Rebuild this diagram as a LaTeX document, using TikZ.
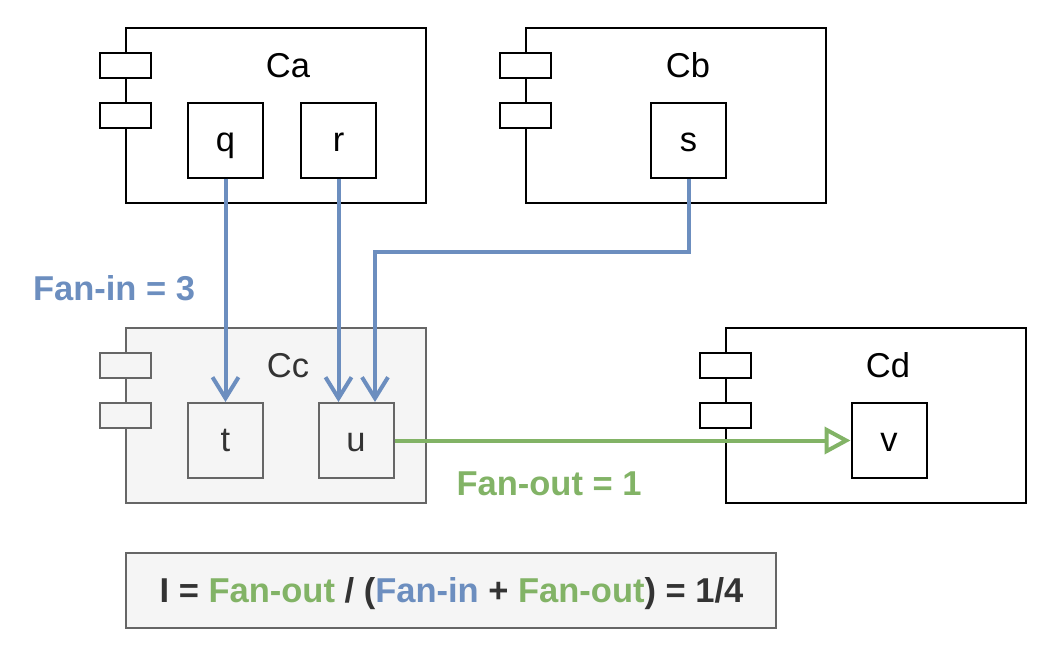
\documentclass[tikz,border=0pt]{standalone}
\usepackage{fontspec}
\setmainfont{Liberation Sans}
\usetikzlibrary{arrows.meta}
\definecolor{blueA}{HTML}{6C8EBF}
\definecolor{greenA}{HTML}{82B366}
\definecolor{grayF}{HTML}{F5F5F5}
\definecolor{grayS}{HTML}{666666}
\definecolor{txtG}{HTML}{333333}
\begin{document}
\begin{tikzpicture}[x=1pt,y=-1pt,
  comp/.style={draw=black, line width=2pt, fill=white, minimum width=300pt, minimum height=175pt, inner sep=0pt},
  compg/.style={comp, draw=grayS, fill=grayF},
  port/.style={draw=black, line width=2pt, fill=white, minimum width=51pt, minimum height=25pt, inner sep=0pt},
  portg/.style={port, draw=grayS, fill=grayF},
  part/.style={draw=black, line width=2pt, fill=white, minimum width=75pt, minimum height=75pt, inner sep=0pt,
    font=\fontsize{34.5}{40}\selectfont, text height=28pt, text depth=6pt},
  partg/.style={part, draw=grayS, fill=grayF, text=txtG},
  lbl/.style={inner sep=0pt, anchor=base, font=\fontsize{34.5}{40}\selectfont},
  bluearr/.style={draw=blueA, line width=4pt, -{Straight Barb[length=21pt,width=26pt]}},
  greenarr/.style={draw=greenA, line width=4pt, -{Triangle[open,length=26pt,width=27pt,fill=white]}},
  fan/.style={inner sep=0pt, anchor=base, font=\fontsize{34.5}{40}\selectfont\bfseries}
]
\useasboundingbox (0,0) rectangle (1060,662);
% components
\node[comp] (ca) at (276,115.5) {};
\node[comp] (cb) at (676,115.5) {};
\node[compg] (cc) at (276,415.5) {};
\node[comp] (cd) at (876,415.5) {};
% ports
\node[port] (ca1) at (125.5,65) {};
\node[port] (ca2) at (125.5,115.5) {};
\node[port] (cb1) at (525.5,65) {};
\node[port] (cb2) at (525.5,115.5) {};
\node[portg] (cc1) at (125.5,365) {};
\node[portg] (cc2) at (125.5,415.5) {};
\node[port] (cd1) at (725.5,365) {};
\node[port] (cd2) at (725.5,415.5) {};
% labels
\node[lbl] (lca) at (288,77) {Ca};
\node[lbl] (lcb) at (688,77) {Cb};
\node[lbl, text=txtG] (lcc) at (288,377) {Cc};
\node[lbl] (lcd) at (888,377) {Cd};
% parts
\node[part] (q) at (225.5,140) {q};
\node[part] (r) at (338.5,140) {r};
\node[part] (s) at (688.5,140) {s};
\node[partg] (t) at (225.5,440.5) {t};
\node[partg] (u) at (356,440.5) {u};
\node[part] (v) at (889,440.5) {v};
% connectors
\coordinate (sb) at (375,252);
\draw[bluearr] (q.south) -- (t.north);
\draw[bluearr] (r.south) -- (r.south |- u.north);
\draw[bluearr] (s.south) |- (sb) -- (sb |- u.north);
\draw[greenarr] (u.east) -- (v.west);
% fan labels
\node[fan, text=blueA] (fanin) at (114,300) {Fan-in = 3};
\node[fan, text=greenA] (fanout) at (549,495) {Fan-out = 1};
% formula
\node[draw=grayS, line width=2pt, fill=grayF, minimum width=650pt, minimum height=75pt, inner sep=0pt] (formula) at (451,590.5) {};
\node[inner sep=0pt, anchor=base, text=txtG, font=\fontsize{34.5}{40}\selectfont\bfseries] (ftext) at (451.5,602)
  {I = \textcolor{greenA}{Fan-out} / (\textcolor{blueA}{Fan-in} + \textcolor{greenA}{Fan-out}) = 1/4};
\end{tikzpicture}
\end{document}
